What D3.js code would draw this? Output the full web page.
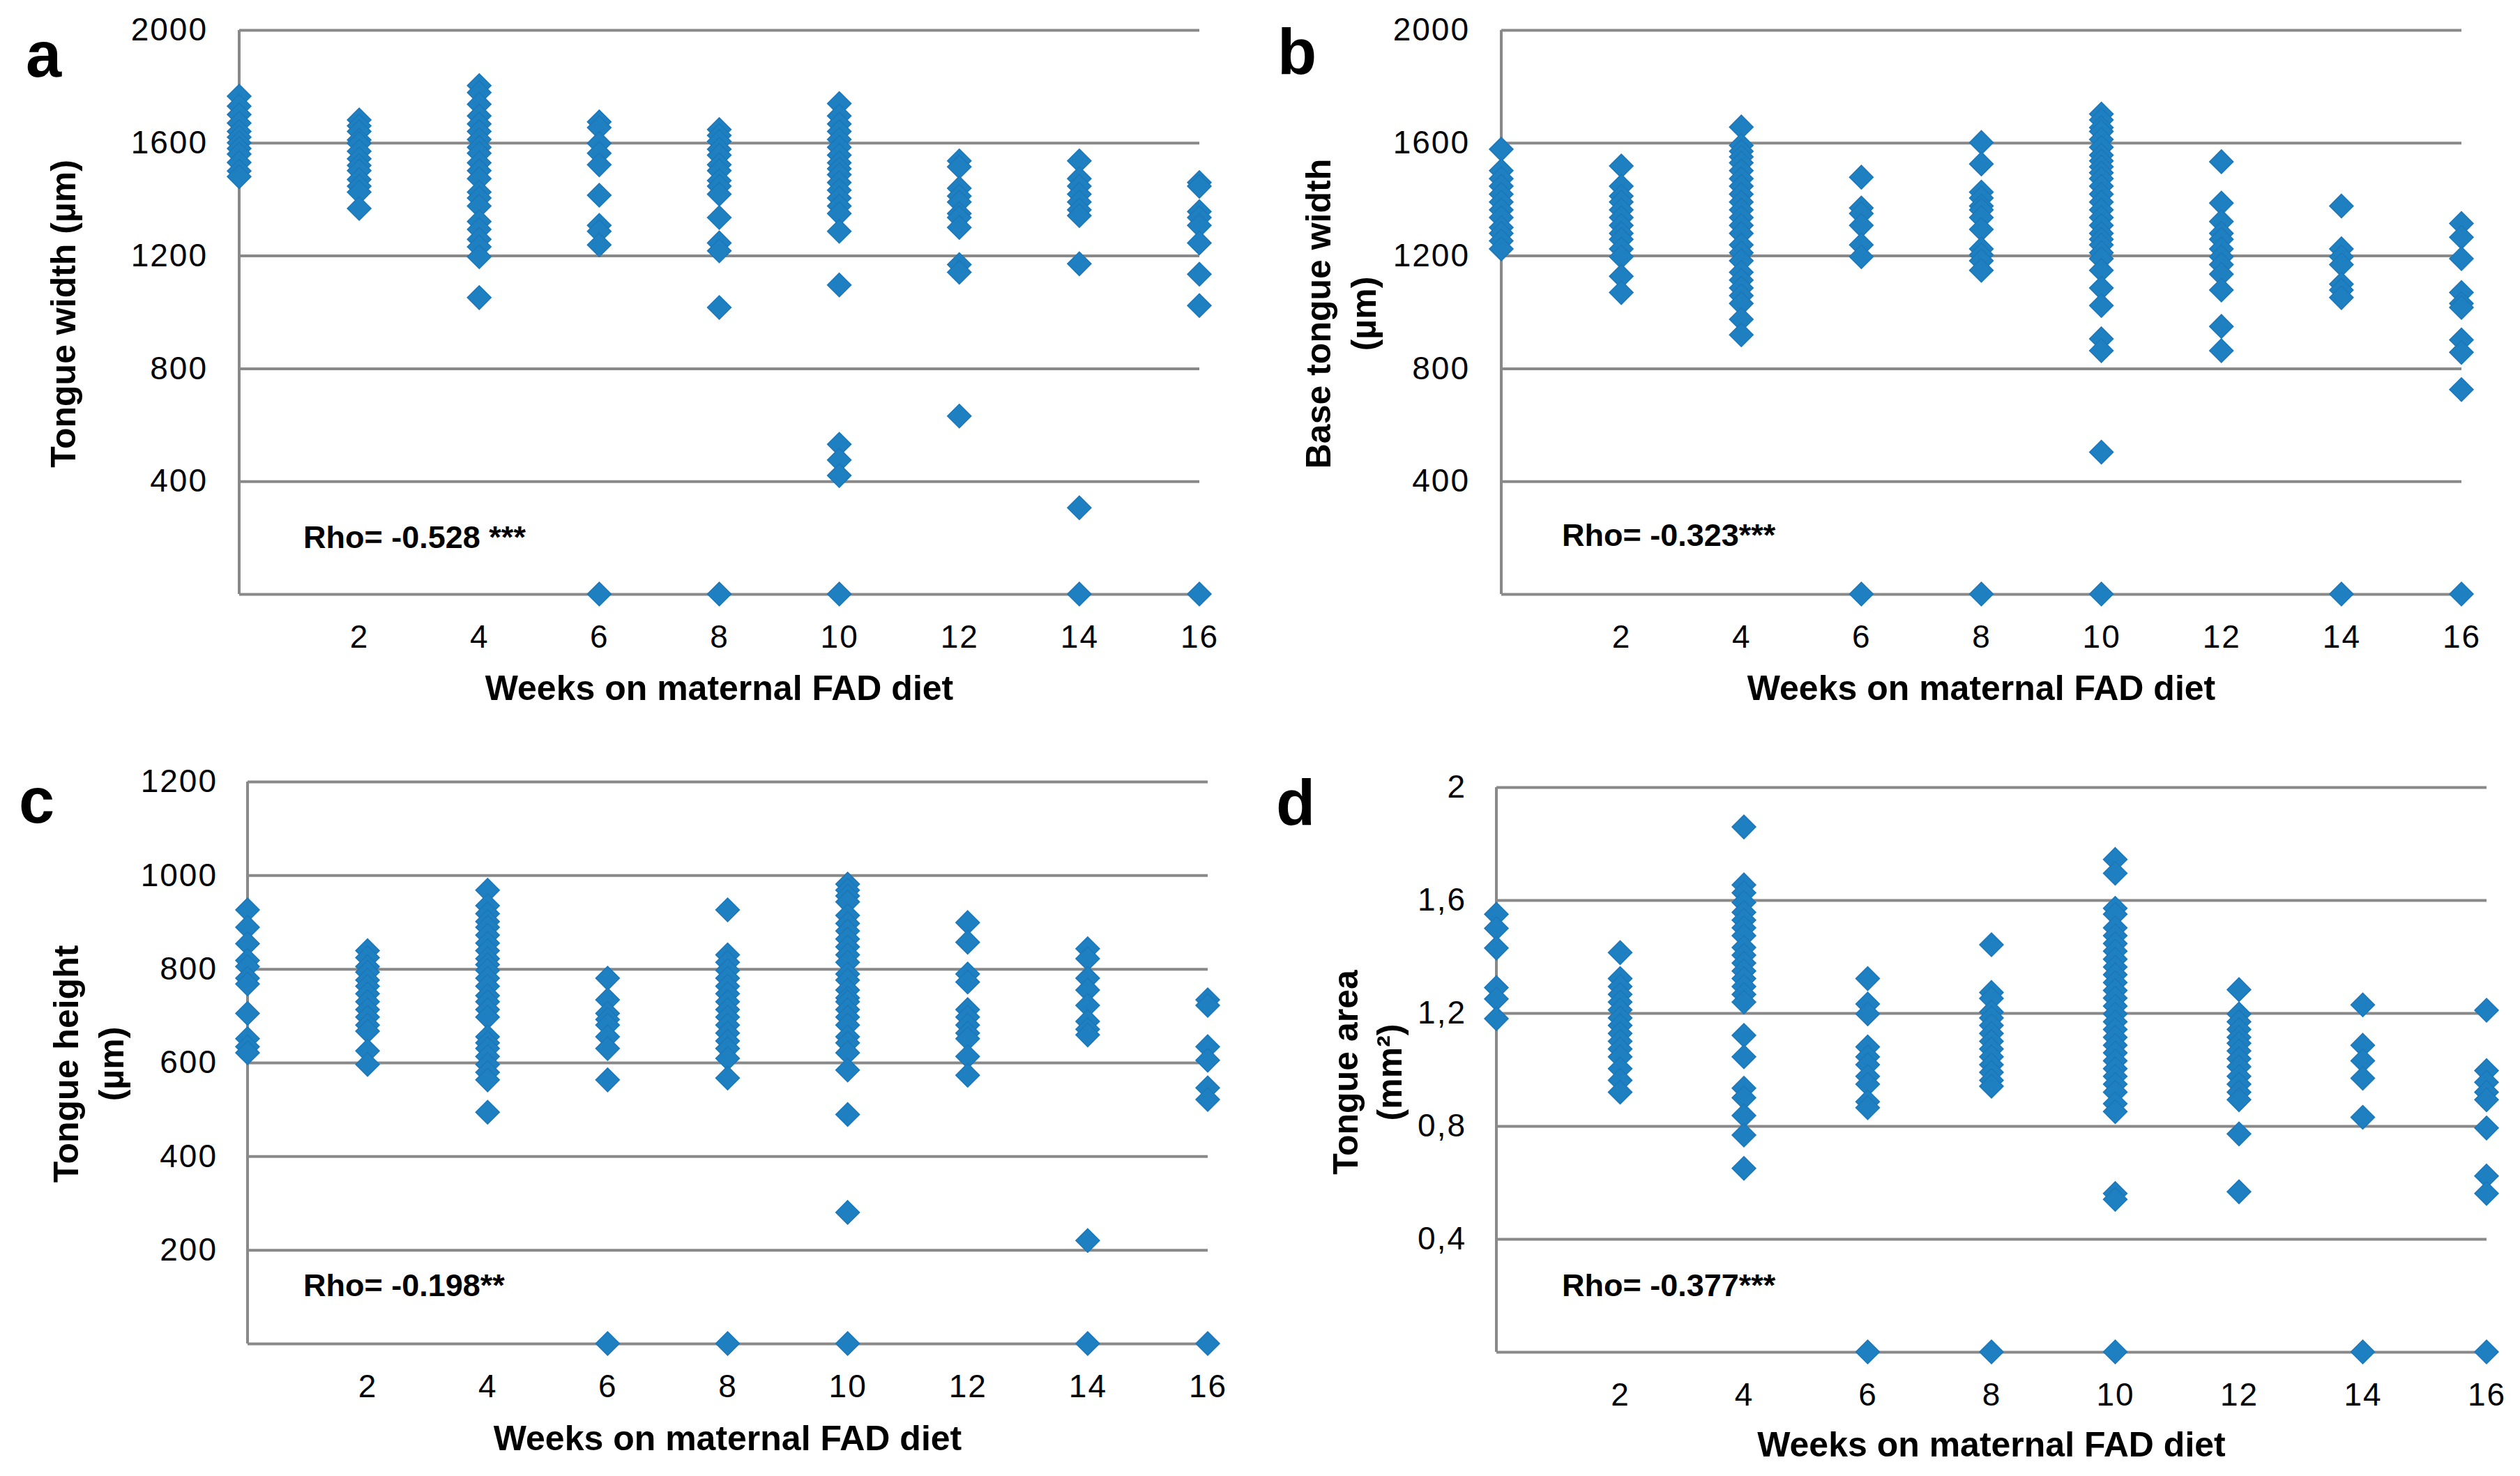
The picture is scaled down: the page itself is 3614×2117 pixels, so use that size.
<!DOCTYPE html>
<meta charset="utf-8">
<style>
    body { margin: 0; background: #fff; }
    svg { font-family: "Liberation Sans", Arial, sans-serif; }
    .grid line { stroke: #898989; stroke-width: 4; }
    .grid path { display: none; }
    .tick text { fill: #000; font-size: 46px; letter-spacing: 2px; }
    .title { font-weight: bold; font-size: 50px; fill: #000; }
    .rho { font-weight: bold; font-size: 45px; fill: #000; }
    .letter { font-weight: bold; font-size: 92px; fill: #000; }
</style>
<body>
<script src="https://cdn.jsdelivr.net/npm/d3@7"></script>
<script>
    // weeks on diet (x positions of the columns)
    const weeks = [0, 2, 4, 6, 8, 10, 12, 14, 16];
    const xTicks = [2, 4, 6, 8, 10, 12, 14, 16];

    // a: tongue width (um), one array per week
    const tongueWidth = [
        [1765, 1730, 1700, 1670, 1640, 1620, 1600, 1580, 1560, 1530, 1500, 1480],
        [1681, 1660, 1640, 1610, 1598, 1570, 1543, 1520, 1501, 1470, 1446, 1425, 1367],
        [1803, 1778, 1737, 1695, 1667, 1640, 1612, 1584, 1563, 1529, 1501, 1473, 1425, 1404, 1376, 1321, 1293, 1258, 1231, 1196, 1051],
        [1674, 1654, 1598, 1563, 1522, 1414, 1307, 1286, 1238, 0],
        [1647, 1626, 1605, 1577, 1556, 1522, 1501, 1466, 1446, 1418, 1335, 1245, 1217, 1016, 0],
        [1739, 1695, 1667, 1640, 1612, 1584, 1556, 1529, 1508, 1487, 1459, 1432, 1404, 1376, 1349, 1286, 1096, 531, 475, 420, 0],
        [1536, 1515, 1439, 1411, 1390, 1349, 1335, 1300, 1168, 1141, 631],
        [1536, 1473, 1446, 1418, 1390, 1362, 1342, 1171, 306, 0],
        [1459, 1446, 1356, 1335, 1307, 1245, 1134, 1023, 0]
    ];

    // b: base tongue width (um)
    const baseWidth = [
        [1577, 1501, 1473, 1446, 1418, 1390, 1362, 1335, 1300, 1279, 1252, 1224],
        [1518, 1446, 1411, 1390, 1362, 1335, 1307, 1279, 1258, 1224, 1196, 1127, 1069],
        [1656, 1591, 1570, 1550, 1529, 1501, 1473, 1446, 1418, 1390, 1362, 1335, 1307, 1279, 1238, 1210, 1182, 1141, 1113, 1085, 1058, 1030, 974, 919],
        [1478, 1369, 1349, 1307, 1238, 1196, 0],
        [1601, 1525, 1425, 1404, 1376, 1362, 1335, 1293, 1224, 1203, 1182, 1148, 0],
        [1702, 1681, 1654, 1640, 1612, 1584, 1556, 1536, 1515, 1494, 1473, 1446, 1418, 1390, 1362, 1335, 1307, 1279, 1258, 1238, 1210, 1189, 1148, 1085, 1023, 905, 863, 503, 0],
        [1533, 1386, 1321, 1279, 1258, 1224, 1196, 1168, 1134, 1078, 949, 863],
        [1376, 1224, 1196, 1168, 1099, 1078, 1051, 0],
        [1314, 1265, 1189, 1069, 1030, 1016, 901, 857, 725, 0]
    ];

    // c: tongue height (um)
    const tongueHeight = [
        [926, 889, 854, 818, 805, 780, 768, 705, 651, 634, 621],
        [839, 824, 805, 793, 776, 763, 747, 730, 713, 697, 680, 667, 625, 596],
        [968, 935, 918, 901, 889, 872, 855, 839, 822, 809, 797, 780, 763, 743, 730, 713, 697, 655, 642, 630, 613, 596, 579, 563, 494],
        [780, 734, 705, 692, 680, 655, 630, 563, 0],
        [926, 830, 814, 797, 780, 763, 747, 730, 713, 697, 680, 663, 646, 630, 609, 567, 0],
        [981, 968, 956, 943, 914, 897, 881, 864, 847, 830, 814, 789, 776, 755, 738, 730, 713, 697, 680, 655, 642, 621, 584, 489, 280, 0],
        [899, 857, 789, 772, 713, 697, 680, 663, 651, 613, 573],
        [843, 822, 780, 755, 722, 688, 671, 659, 220, 0],
        [734, 722, 634, 605, 546, 521, 0]
    ];

    // d: tongue area (mm2)
    const tongueArea = [
        [1.55, 1.50, 1.43, 1.29, 1.25, 1.18],
        [1.414, 1.322, 1.294, 1.266, 1.239, 1.211, 1.183, 1.156, 1.128, 1.100, 1.073, 1.045, 1.003, 0.962, 0.920],
        [1.859, 1.654, 1.626, 1.592, 1.557, 1.529, 1.502, 1.474, 1.432, 1.405, 1.377, 1.349, 1.322, 1.294, 1.266, 1.239, 1.121, 1.045, 0.934, 0.900, 0.837, 0.768, 0.650],
        [1.322, 1.232, 1.197, 1.080, 1.045, 1.017, 0.976, 0.948, 0.886, 0.865, 0],
        [1.442, 1.273, 1.252, 1.204, 1.183, 1.156, 1.128, 1.100, 1.073, 1.045, 1.017, 0.990, 0.962, 0.941, 0],
        [1.744, 1.695, 1.571, 1.550, 1.502, 1.474, 1.446, 1.419, 1.391, 1.363, 1.336, 1.308, 1.280, 1.253, 1.225, 1.197, 1.169, 1.142, 1.114, 1.086, 1.059, 1.031, 1.003, 0.976, 0.948, 0.920, 0.879, 0.851, 0.561, 0.540, 0],
        [1.283, 1.197, 1.169, 1.142, 1.114, 1.093, 1.066, 1.038, 1.010, 0.976, 0.948, 0.920, 0.893, 0.772, 0.567],
        [1.229, 1.086, 1.031, 0.969, 0.831, 0],
        [1.210, 0.996, 0.955, 0.920, 0.893, 0.793, 0.623, 0.561, 0]
    ];

    const yTicksWidth = [0, 400, 800, 1200, 1600, 2000];
    const yTicksHeight = [0, 200, 400, 600, 800, 1000, 1200];
    const yTicksArea = [0, 0.4, 0.8, 1.2, 1.6, 2];

    const rhoLabels = ["Rho= -0.528 ***", "Rho= -0.323***", "Rho= -0.198**", "Rho= -0.377***"];

    const W = 3614, H = 2117;
    const svg = d3.select('body').append('svg')
        .attr('width', W)
        .attr('height', H);

    const blue = '#1f80c1';
    const r = 17;
    const diamond = `M0,${-r}L${r},0L0,${r}L${-r},0Z`;

    const commaFmt = v => v === 0 ? '' : String(v).replace('.', ',');
    const intFmt = v => v === 0 ? '' : String(v);

    const panels = [
        {letter: 'a', lx: 37, ly: 110, data: tongueWidth, ticks: yTicksWidth, fmt: intFmt,
         x0: 343, x1: 1720, yTop: 43, yBot: 852, labelPad: 45,
         ytitle: ['Tongue width (µm)'], ytx: [108], yty: 450,
         rho: rhoLabels[0], rx: 435, ry: 786, xtitleY: 1004},
        {letter: 'b', lx: 1832, ly: 106, data: baseWidth, ticks: yTicksWidth, fmt: intFmt,
         x0: 2153, x1: 3530, yTop: 43, yBot: 852, labelPad: 45,
         ytitle: ['Base tongue width', '(µm)'], ytx: [1908, 1973], yty: 450,
         rho: rhoLabels[1], rx: 2240, ry: 783, xtitleY: 1004},
        {letter: 'c', lx: 27, ly: 1180, data: tongueHeight, ticks: yTicksHeight, fmt: intFmt,
         x0: 355, x1: 1732, yTop: 1121, yBot: 1927, labelPad: 43,
         ytitle: ['Tongue height', '(µm)'], ytx: [112, 177], yty: 1526,
         rho: rhoLabels[2], rx: 435, ry: 1859, xtitleY: 2080},
        {letter: 'd', lx: 1830, ly: 1183, data: tongueArea, ticks: yTicksArea, fmt: commaFmt,
         x0: 2146, x1: 3566, yTop: 1129, yBot: 1939, labelPad: 43,
         ytitle: ['Tongue area', '(mm²)'], ytx: [1947, 2010], yty: 1538,
         rho: rhoLabels[3], rx: 2240, ry: 1859, xtitleY: 2089}
    ];

    panels.forEach(p => {
        const x = d3.scaleLinear().domain([0, 16]).range([p.x0, p.x1]);
        const y = d3.scaleLinear().domain([0, d3.max(p.ticks)]).range([p.yBot, p.yTop]);
        const g = svg.append('g');

        // horizontal gridlines + y tick labels
        g.append('g')
            .attr('class', 'grid')
            .attr('transform', `translate(${p.x0},0)`)
            .call(d3.axisLeft(y).tickValues(p.ticks).tickFormat(p.fmt)
                .tickSizeInner(-(p.x1 - p.x0)).tickSizeOuter(0).tickPadding(p.labelPad))
            .selectAll('text').attr('font-family', null).attr('font-size', null);

        // left axis line
        g.append('line')
            .attr('x1', p.x0).attr('x2', p.x0)
            .attr('y1', p.yTop).attr('y2', p.yBot)
            .attr('stroke', '#898989').attr('stroke-width', 4);

        // x tick labels
        const xa = g.append('g')
            .attr('class', 'grid')
            .attr('transform', `translate(0,${p.yBot})`)
            .call(d3.axisBottom(x).tickValues(xTicks).tickSize(0).tickPadding(44));
        xa.selectAll('text').attr('font-family', null).attr('font-size', null);
        xa.selectAll('line').remove();

        // points
        const pts = [];
        p.data.forEach((vals, i) => vals.forEach(v => pts.push({w: weeks[i], v: v})));
        g.selectAll('.dot')
            .data(pts)
            .enter().append('path')
            .attr('class', 'dot')
            .attr('d', diamond)
            .attr('transform', d => `translate(${x(d.w)},${y(d.v)})`)
            .attr('fill', blue)
            .attr('stroke', '#1b77ba')
            .attr('stroke-width', 1.5);

        // rho annotation
        g.append('text').attr('class', 'rho')
            .attr('x', p.rx).attr('y', p.ry).text(p.rho);

        // x title
        g.append('text').attr('class', 'title')
            .attr('x', (p.x0 + p.x1) / 2).attr('y', p.xtitleY)
            .attr('text-anchor', 'middle')
            .text('Weeks on maternal FAD diet');

        // y title (rotated)
        p.ytitle.forEach((t, i) => {
            g.append('text').attr('class', 'title')
                .attr('transform', `translate(${p.ytx[i]},${p.yty}) rotate(-90)`)
                .attr('text-anchor', 'middle')
                .text(t);
        });

        // panel letter
        g.append('text').attr('class', 'letter')
            .attr('x', p.lx).attr('y', p.ly).text(p.letter);
    });
</script>
</body>
</html>
